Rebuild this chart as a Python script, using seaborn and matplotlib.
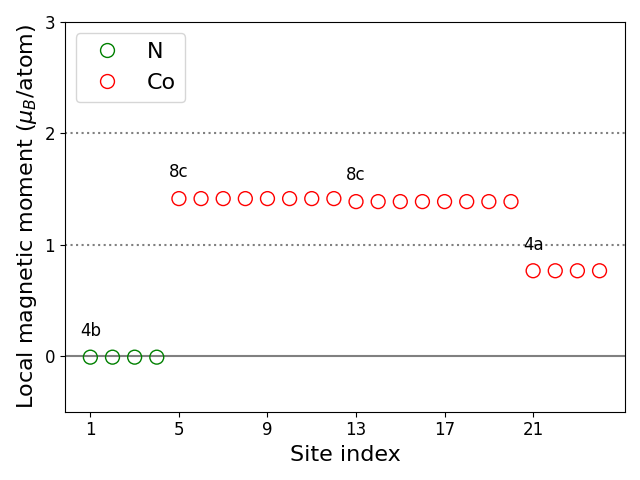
import matplotlib
matplotlib.use("Agg")
import matplotlib.pyplot as plt
import seaborn as sns
import pandas as pd
from matplotlib.lines import Line2D

sns.set_style("ticks")
plt.rcParams['font.family'] = ['DejaVu Sans']
plt.rcParams.update({"text.color": "black", "axes.labelcolor": "black",
                     "xtick.color": "black", "ytick.color": "black",
                     "axes.edgecolor": "black"})

n_sites = [1, 2, 3, 4]
n_moments = [-0.01, -0.01, -0.01, -0.01]
co_sites = list(range(5, 25))
co_moments = [1.414] * 8 + [1.387] * 8 + [0.766] * 4
labels = ["4b", "8c", "8c", "4a"]
label_sites = [1, 5, 13, 21]
label_values = [-0.01, 1.414, 1.387, 0.766]

df = pd.DataFrame({
    "site": n_sites + co_sites,
    "moment": n_moments + co_moments,
    "element": ["N"] * len(n_sites) + ["Co"] * len(co_sites),
})

fig, ax = plt.subplots(figsize=(6.4, 4.8), dpi=100)
ax.axhline(0, color="gray", lw=1.5, zorder=0)
ax.axhline(1, color="gray", lw=1.5, ls=":", zorder=0)
ax.axhline(2, color="gray", lw=1.5, ls=":", zorder=0)

sns.scatterplot(data=df, x="site", y="moment", hue="element",
                palette={"N": "green", "Co": "red"},
                marker="o", s=100, ax=ax, legend=False, zorder=3)
for coll in ax.collections:
    coll.set_facecolor("none")
    coll.set_edgecolor(["green"] * len(n_sites) + ["red"] * len(co_sites))
    coll.set_linewidth(1.0)

for lab, xs, yv in zip(labels, label_sites, label_values):
    ax.text(xs - 0.45, yv + 0.19, lab, fontsize=12, color="black")

handles = [Line2D([], [], ls="none", marker="o", ms=10, mfc="none", mec="green", label="N"),
           Line2D([], [], ls="none", marker="o", ms=10, mfc="none", mec="red", label="Co")]
ax.legend(handles=handles, fontsize=16, loc="upper left")

ax.set_ylim(-0.5, 3)
ax.set_xticks([1, 5, 9, 13, 17, 21])
ax.set_yticks([0, 1, 2, 3])
ax.tick_params(labelsize=12)
ax.set_xlabel("Site index", fontsize=16)
ax.set_ylabel(r"Local magnetic moment ($\mu_B$/atom)", fontsize=16)
fig.tight_layout()
fig.savefig("out.png")
